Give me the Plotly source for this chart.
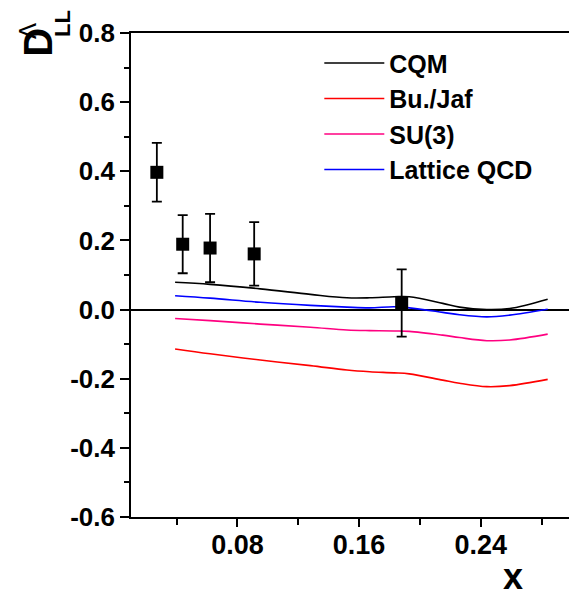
import plotly.graph_objects as go

# ---- data ----
data_x = [0.027, 0.044, 0.062, 0.091, 0.188]
data_y = [0.397, 0.189, 0.178, 0.161, 0.019]
data_err = [0.085, 0.084, 0.099, 0.092, 0.097]

curve_x = [0.039, 0.062, 0.095, 0.128, 0.152, 0.167, 0.183, 0.193, 0.215, 0.226, 0.244, 0.259, 0.284]
cqm = [0.079, 0.073, 0.060, 0.044, 0.034, 0.034, 0.037, 0.037, 0.018, 0.007, 0.000, 0.003, 0.030]
bujaf = [-0.114, -0.128, -0.146, -0.162, -0.175, -0.180, -0.183, -0.186, -0.204, -0.213, -0.223, -0.220, -0.202]
su3 = [-0.026, -0.032, -0.042, -0.051, -0.059, -0.061, -0.062, -0.063, -0.074, -0.081, -0.090, -0.088, -0.071]
lattice = [0.040, 0.033, 0.021, 0.012, 0.007, 0.005, 0.008, 0.005, -0.008, -0.015, -0.021, -0.016, 0.001]

y_tickvals = [-0.6, -0.4, -0.2, 0.0, 0.2, 0.4, 0.6, 0.8]
y_ticktext = ["-0.6", "-0.4", "-0.2", "0.0", "0.2", "0.4", "0.6", "0.8"]
x_tickvals = [0.08, 0.16, 0.24]
x_ticktext = ["0.08", "0.16", "0.24"]

series = [
    ("CQM", cqm, "#000000"),
    ("Bu./Jaf", bujaf, "#ff0000"),
    ("SU(3)", su3, "#ff0080"),
    ("Lattice QCD", lattice, "#0000ff"),
]

FONT = "Liberation Sans, Arial, sans-serif"

fig = go.Figure()
for i, (name, ys, col) in enumerate(series):
    fig.add_trace(go.Scatter(
        x=curve_x, y=ys, mode="lines", name=name,
        line=dict(color=col, width=1.6, shape="spline", smoothing=1.0),
    ))

fig.add_trace(go.Scatter(
    x=data_x, y=data_y, mode="markers", showlegend=False,
    marker=dict(symbol="square", size=13, color="black"),
    error_y=dict(type="data", array=data_err, color="black", thickness=1.8, width=5),
))

axis_common = dict(
    showline=True, linecolor="black", linewidth=1.6, mirror=True,
    ticks="outside", tickcolor="black", tickwidth=1.6,
    showgrid=False, automargin=False,
)

fig.update_xaxes(
    range=[0.01, 0.30], tickmode="array", tickvals=x_tickvals, ticktext=x_ticktext, ticklen=8,
    tickfont=dict(family=FONT, size=27, color="black", weight="bold"),
    ticklabelstandoff=-5,
    minor=dict(ticks="outside", dtick=0.04, tick0=0, ticklen=6, tickcolor="black", tickwidth=1.6),
    zeroline=False,
    **axis_common,
)
fig.update_yaxes(
    range=[-0.6, 0.8], tickmode="array", tickvals=y_tickvals, ticktext=y_ticktext, ticklen=9,
    tickfont=dict(family=FONT, size=26, color="black", weight="bold"),
    minor=dict(ticks="outside", dtick=0.1, tick0=0, ticklen=5, tickcolor="black", tickwidth=1.6),
    zeroline=True, zerolinecolor="black", zerolinewidth=1.6,
    **axis_common,
)

# page body has an 8px default margin, so the figure is sized/offset to compensate
fig.update_layout(
    width=569, height=584,
    margin=dict(l=123, r=5, t=25, b=75),
    plot_bgcolor="white", paper_bgcolor="white",
    legend=dict(
        x=0.427, y=0.985, xanchor="left", yanchor="top",
        bgcolor="rgba(0,0,0,0)", borderwidth=0,
        font=dict(family=FONT, size=25, color="black", weight="bold"),
        itemwidth=60, tracegroupgap=0,
    ),
    annotations=[
        dict(text="D", xref="paper", yref="paper", x=-0.211, y=0.982,
             xanchor="center", yanchor="middle", showarrow=False, textangle=-90,
             font=dict(family=FONT, size=40, color="black", weight="bold")),
        dict(text="LL", xref="paper", yref="paper", x=-0.155, y=1.020,
             xanchor="center", yanchor="middle", showarrow=False, textangle=-90,
             font=dict(family=FONT, size=22, color="black", weight="bold")),
        dict(text="Λ", xref="paper", yref="paper", x=-0.236, y=1.004,
             xanchor="center", yanchor="middle", showarrow=False, textangle=-90,
             font=dict(family=FONT, size=24, color="black")),
        dict(text="x", xref="paper", yref="paper", x=0.866, y=-0.122,
             xanchor="center", yanchor="middle", showarrow=False, borderpad=0,
             font=dict(family=FONT, size=36, color="black", weight="bold")),
    ],
)

fig.write_html("out.html")
